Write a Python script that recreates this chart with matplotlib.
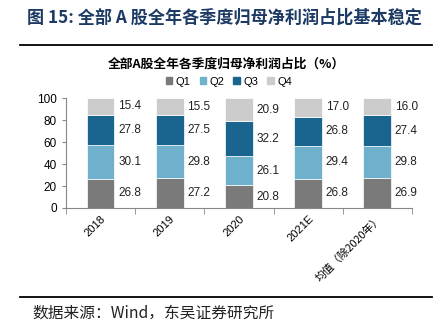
import matplotlib
matplotlib.use("Agg")
import matplotlib.pyplot as plt
import numpy as np
from matplotlib.lines import Line2D
from matplotlib.patches import Patch

plt.rcParams['font.family'] = ['Liberation Sans', 'Noto Sans CJK SC', 'DejaVu Sans']

categories = ["2018", "2019", "2020", "2021E", "均值（除2020年）"]
q1 = [26.8, 27.2, 20.8, 26.8, 26.9]
q2 = [30.1, 29.8, 26.1, 29.4, 29.8]
q3 = [27.8, 27.5, 32.2, 26.8, 27.4]
q4 = [15.4, 15.5, 20.9, 17.0, 16.0]
series_names = ["Q1", "Q2", "Q3", "Q4"]
colors = ["#7a7a7a", "#6fb1cd", "#1a6590", "#cccccc"]

cjk = ['Noto Sans CJK SC', 'DejaVu Sans']

fig = plt.figure(figsize=(4.4, 3.3), dpi=100)

fig.text(0.51, 0.948, "图 15: 全部 A 股全年各季度归母净利润占比基本稳定", ha="center", va="center",
         fontsize=12.3, fontweight="bold", color="#1c3a63", family=cjk)
fig.add_artist(Line2D([0.045, 0.982], [0.864, 0.864], color="black", lw=1.3))
fig.add_artist(Line2D([0.045, 0.982], [0.1, 0.1], color="black", lw=1.3))
fig.text(0.073, 0.05, "数据来源：Wind，东吴证券研究所", ha="left", va="center", fontsize=11.3,
         color="#222222", family=cjk)

ax = fig.add_axes([0.15, 0.3697, 0.786, 0.3333])
x = np.arange(len(categories))
data = [q1, q2, q3, q4]
bottom = np.zeros(len(categories))
for vals, c, name in zip(data, colors, series_names):
    vals = np.array(vals)
    ax.bar(x, vals, bottom=bottom, width=0.4, color=c, edgecolor="white", linewidth=0.5, label=name)
    for xi, b, v in zip(x, bottom, vals):
        ax.text(xi + 0.42, b + v / 2, f"{v:.1f}", ha="center", va="center", fontsize=8.5, color="#222222")
    bottom += vals

ax.set_xlim(-0.5, len(categories) - 0.5)
ax.set_ylim(0, 100)
ax.set_yticks([0, 20, 40, 60, 80, 100])
ax.tick_params(axis="y", labelsize=8.5, length=3, colors="#888888", labelcolor="black")
ax.set_xticks(x)
ax.set_xticklabels(categories, rotation=45, ha="right", rotation_mode="anchor", fontsize=8)
ax.get_xticklabels()[-1].set_fontsize(7.8)
ax.get_xticklabels()[-1].set_family(cjk)
ax.tick_params(axis="x", length=0, pad=4)
ax.set_xticks(np.arange(-0.5, len(categories), 1.0), minor=True)
ax.tick_params(axis="x", which="minor", length=4, color="#888888")
for s in ["top", "right"]:
    ax.spines[s].set_visible(False)
ax.spines["left"].set_color("#888888")
ax.spines["bottom"].set_color("#888888")

fig.text(0.515, 0.806, "全部A股全年各季度归母净利润占比（%）", ha="center", va="center", fontsize=9.2,
         fontweight="bold", family=cjk)
handles = [Patch(color=c) for c in colors]
fig.legend(handles, series_names, loc="center", bbox_to_anchor=(0.52, 0.752), ncol=4, frameon=False,
           fontsize=8, handlelength=0.6, handleheight=0.6, handletextpad=0.3, columnspacing=0.8)

fig.savefig("out.png", dpi=100)
